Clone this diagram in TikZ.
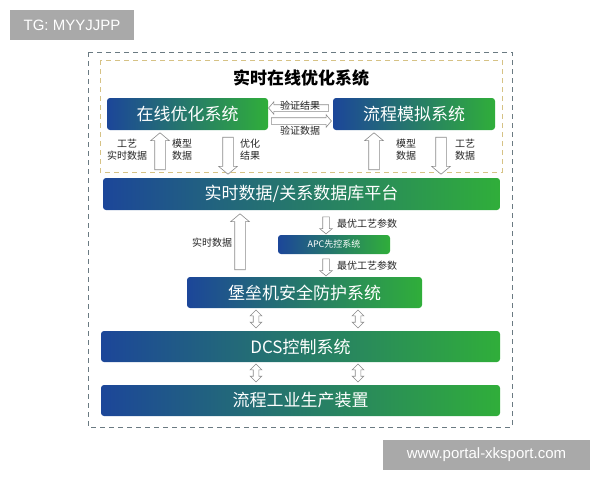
\documentclass[tikz,border=0pt]{standalone}
\usepackage{fontspec}
\setmainfont{Noto Sans CJK SC}
\newfontfamily\markfont{Liberation Sans}
\usetikzlibrary{shapes.arrows, positioning}

\definecolor{boxblue}{HTML}{1C4699}
\definecolor{boxgreen}{HTML}{30AE3A}
\definecolor{framegray}{HTML}{6A7A82}
\definecolor{frametan}{HTML}{D6C285}
\definecolor{arrowgray}{HTML}{8A8A8A}
\definecolor{markgray}{HTML}{A9A9A9}

\begin{document}
\begin{tikzpicture}[
  x=1pt, y=-1pt,
  sysbox/.style={rounded corners=3pt, left color=boxblue, right color=boxgreen, text=white, inner sep=0pt, font=\fontsize{17}{17}\selectfont},
  lbl/.style={font=\fontsize{10}{12}\selectfont, align=center, text=black!85, inner sep=0pt},
  bigarrow/.style={single arrow, draw=arrowgray, fill=white, line width=0.6pt, inner sep=5pt, single arrow head extend=4pt, single arrow tip angle=100},
  thinarrow/.style={single arrow, draw=arrowgray, fill=white, line width=0.6pt, inner sep=3pt, single arrow head extend=3pt, single arrow tip angle=100},
  twoway/.style={double arrow, draw=arrowgray, fill=white, line width=0.6pt, inner sep=2.5pt, double arrow head extend=3pt, rotate=90, minimum height=18pt},
  tagbox/.style={fill=markgray, text=white, font=\markfont\fontsize{15}{15}\selectfont, inner sep=0pt},
]
\useasboundingbox (0,0) rectangle (600,480);

% Frames
\draw [framegray, dash pattern=on 5pt off 4pt, line width=0.8pt] (88,52) rectangle (512,427);
\draw [frametan, dash pattern=on 5pt off 4pt, line width=0.8pt] (100,60) rectangle (502,172);
\node (title) [font=\fontsize{17}{17}\selectfont\bfseries] at (301,78) {实时在线优化系统};

% Systems
\node (opt)     [sysbox, minimum width=161pt, minimum height=32pt] at (187.5,114) {在线优化系统};
\node (sim)     [sysbox, minimum width=162pt, minimum height=32pt] at (414,114) {流程模拟系统};
\node (db)      [sysbox, minimum width=397pt, minimum height=32pt] at (301.5,194) {实时数据/关系数据库平台};
\node (apc)     [sysbox, minimum width=112pt, minimum height=19pt, font=\fontsize{9}{9}\selectfont] at (334,244.5) {APC先控系统};
\node (bastion) [sysbox, minimum width=235pt, minimum height=31pt] at (304.5,292.5) {堡垒机安全防护系统};
\node (dcs)     [sysbox, minimum width=399pt, minimum height=31pt] at (300.5,346.5) {DCS控制系统};
\node (plant)   [sysbox, minimum width=399pt, minimum height=31pt] at (300.5,400.5) {流程工业生产装置};

% Arrows between the two systems
\node (back) [thinarrow, rotate=180, minimum height=60pt] at (300,108) {};
\node (fwd)  [thinarrow, minimum height=60pt] at (300,121) {};
\node [lbl, above=1pt of back] {验证结果};
\node [lbl, below=1pt of fwd] {验证数据};

% Arrows under the systems
\node (optup)   [bigarrow, rotate=90, minimum height=37pt] at (160,153.5) {};
\node (optdown) [bigarrow, rotate=-90, minimum height=37pt] at (228,153.5) {};
\node (simup)   [bigarrow, rotate=90, minimum height=37pt] at (374,153.5) {};
\node (simdown) [bigarrow, rotate=-90, minimum height=37pt] at (441,153.5) {};
\node [lbl] at (127,150) {工艺\\实时数据};
\node [lbl] at (182,150) {模型\\数据};
\node [lbl] at (250,150) {优化\\结果};
\node [lbl] at (406,150) {模型\\数据};
\node [lbl] at (465,150) {工艺\\数据};

% Real-time data and APC
\node (rtup)   [bigarrow, rotate=90, minimum height=56pt] at (240,244) {};
\node [lbl] at (212,243) {实时数据};
\node (apcin)  [thinarrow, rotate=-90, minimum height=17pt] at (326,224) {};
\node (apcout) [thinarrow, rotate=-90, minimum height=17pt] at (326,266) {};
\node [lbl, right=11pt of apcin.center] {最优工艺参数};
\node [lbl, right=11pt of apcout.center] {最优工艺参数};

% Two-way links
\foreach \x in {256,358} {
  \node [twoway] at (\x,319) {};
  \node [twoway] at (\x,373) {};
}

% Tags
\node (tg)  [tagbox, minimum width=124pt, minimum height=30pt] at (72,25) {TG: MYYJJPP};
\node (www) [tagbox, minimum width=207pt, minimum height=30pt] at (486.5,455) {www.portal-xksport.com};

\end{tikzpicture}
\end{document}
